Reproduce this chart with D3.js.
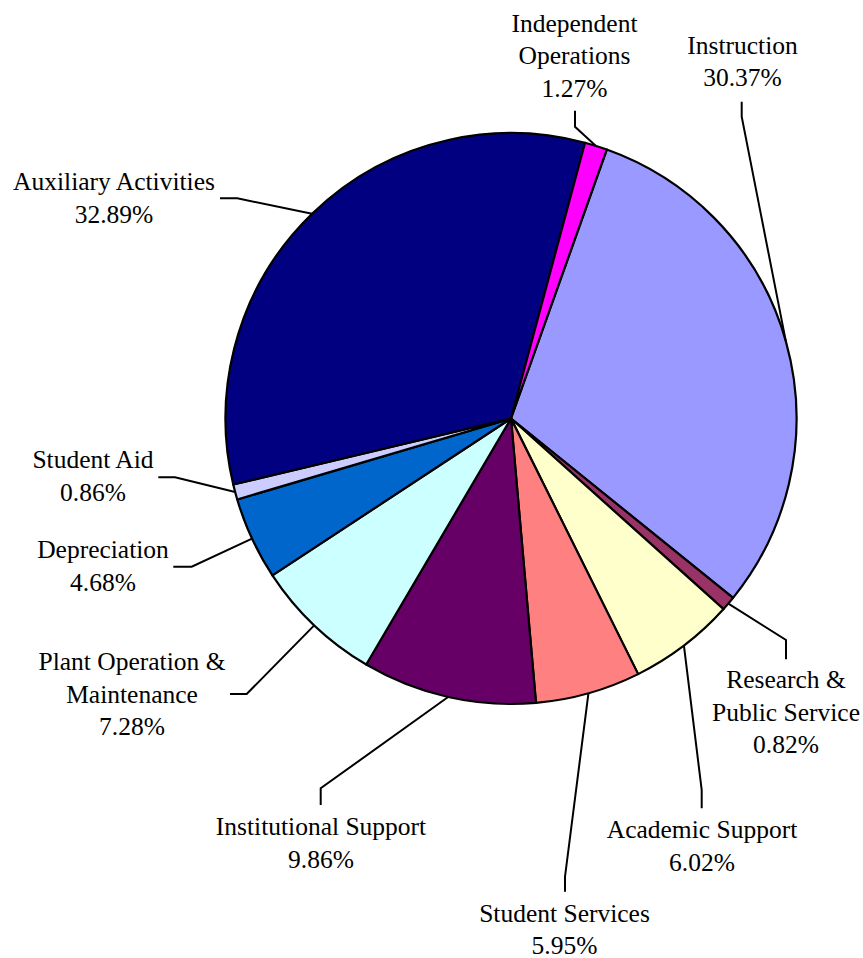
<!DOCTYPE html>
<html>
<head>
<meta charset="utf-8">
<script src="https://cdn.jsdelivr.net/npm/d3@7"></script>
<style>
html,body{margin:0;padding:0;background:#fff;}
svg{display:block;}
text{font-family:"Liberation Serif","Times New Roman",serif;}
</style>
</head>
<body>
<script>
// ---- data ----
const categories = ["Instruction","Research & Public Service","Academic Support","Student Services","Institutional Support","Plant Operation & Maintenance","Depreciation","Student Aid","Auxiliary Activities","Independent Operations"];
const values = [30.37,0.82,6.02,5.95,9.86,7.28,4.68,0.86,32.89,1.27];
const labelLines = [["Instruction"],["Research &","Public Service"],["Academic Support"],["Student Services"],["Institutional Support"],["Plant Operation &","Maintenance"],["Depreciation"],["Student Aid"],["Auxiliary Activities"],["Independent","Operations"]];
const colors = ["#9999FF","#993366","#FFFFCC","#FF8080","#660066","#CCFFFF","#0066CC","#CCCCFF","#000080","#FF00FF"];

// ---- layout (label anchors and leader elbows) ----
const labelPos = [[742.5,53.5],[786,688.3],[702,838.3],[564.5,921.7],[321,835],[132,670],[103,558.3],[93,468.3],[114,190],[574.5,31.5]];
const leaderPts = [
  [[741.7,101.7],[741.7,116.7]],
  [[786,659.3],[786,640]],
  [[701.7,808.3],[701.7,790]],
  [[565,891.7],[565,876.7]],
  [[320.7,805],[320.7,788.3]],
  [[230,694],[246.7,694]],
  [[173.3,566.7],[191.7,566.7]],
  [[158.3,477.3],[175,477.3]],
  [[220,198.3],[237.3,198.3]],
  [[575,110.7],[575,126.7]]
];

const W = 863, H = 958;
const cx = 511, cy = 418.5, R = 285.5;
const start = 19.6 * Math.PI / 180;
const lineH = 32.5;

const svg = d3.select("body").append("svg").attr("width", W).attr("height", H);

const pie = d3.pie().sort(null).value(d => d).startAngle(start).endAngle(start + 2 * Math.PI);
const arcs = pie(values);
const arc = d3.arc().innerRadius(0).outerRadius(R);
const edge = d3.arc().innerRadius(R).outerRadius(R);

const g = svg.append("g").attr("transform", `translate(${cx},${cy})`);
g.selectAll("path.slice").data(arcs).join("path")
  .attr("class", "slice")
  .attr("d", arc)
  .attr("fill", (d, i) => colors[i])
  .attr("stroke", "#000")
  .attr("stroke-width", 2.2)
  .attr("stroke-linejoin", "round");

// leader lines
const line = d3.line();
svg.selectAll("path.leader").data(arcs).join("path")
  .attr("class", "leader")
  .attr("d", (d, i) => {
    const c = edge.centroid(d);
    return line([leaderPts[i][0], leaderPts[i][1], [cx + c[0], cy + c[1]]]);
  })
  .attr("fill", "none")
  .attr("stroke", "#000")
  .attr("stroke-width", 2);

// labels
const lbl = svg.selectAll("text.lbl").data(arcs).join("text")
  .attr("class", "lbl")
  .attr("text-anchor", "middle")
  .attr("font-size", 25.5)
  .attr("fill", "#000");
lbl.each(function(d, i) {
  const t = d3.select(this);
  const lines = labelLines[i].concat([values[i].toFixed(2) + "%"]);
  lines.forEach((s, k) => {
    t.append("tspan").attr("x", labelPos[i][0]).attr("y", labelPos[i][1] + k * lineH).text(s);
  });
});
</script>
</body>
</html>
